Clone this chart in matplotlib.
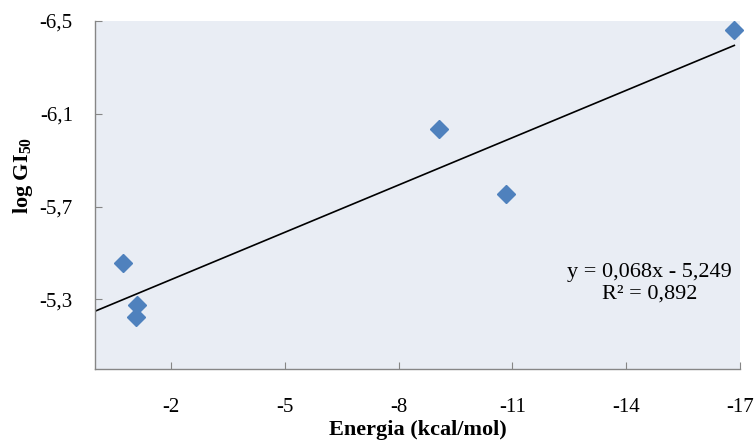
import matplotlib.pyplot as plt
import numpy as np

# docking energy vs log GI50
energia = np.array([-0.73, -1.10, -1.07, -9.07, -10.84, -16.85])
log_gi50 = np.array([-5.457, -5.275, -5.225, -6.036, -5.755, -6.46])

# linear trend as reported
slope = 0.068
intercept = -5.249
r2 = 0.892

x_ticks = [-2, -5, -8, -11, -14, -17]
y_ticks = [-5.3, -5.7, -6.1, -6.5]

plt.rcParams['font.family'] = ['Liberation Serif', 'DejaVu Serif']
plt.rcParams['mathtext.fontset'] = 'custom'
plt.rcParams['mathtext.rm'] = 'Liberation Serif:bold'
plt.rcParams['mathtext.default'] = 'rm'

fig = plt.figure(figsize=(7.55, 4.44), dpi=100)
ax = fig.add_axes([95/755, 1-369/444, (740-95)/755, (369-21)/444])
ax.set_facecolor('#e9edf4')

xl = np.array([0, energia.min()])
ax.plot(xl, slope*xl + intercept, color='black', lw=1.2, zorder=2)
ax.plot(energia, log_gi50, 'D', color='#4f81bd', ms=9, mec='#4f81bd',
        zorder=3, clip_on=False)

ax.set_xlim(0, -17)
ax.set_ylim(-5.0, -6.5)
ax.set_xticks(x_ticks)
ax.set_xticklabels([str(v) for v in x_ticks])
ax.set_yticks(y_ticks)
ax.set_yticklabels([f'{v:.1f}'.replace('.', ',') for v in y_ticks])

for s in ['top', 'right']:
    ax.spines[s].set_visible(False)
for s in ['left', 'bottom']:
    ax.spines[s].set_color('#868686')
    ax.spines[s].set_linewidth(1.0)
ax.tick_params(direction='in', length=5, color='#868686', labelsize=15)
ax.tick_params(axis='x', pad=21)
ax.tick_params(axis='y', pad=16)

ax.set_xlabel('Energia (kcal/mol)', fontsize=16, fontweight='bold')
ax.xaxis.set_label_coords(0.5, -0.147)
ax.set_ylabel(r'log GI$_{50}$', fontsize=16, fontweight='bold', va='center')
ax.yaxis.set_label_coords(-0.112, 0.557)

eq = f'y = {slope:.3f}x - {abs(intercept):.3f}'.replace('.', ',')
ax.text(0.86, 0.247, eq + '\n' + f'R² = {r2:.3f}'.replace('.', ','),
        transform=ax.transAxes, ha='center', va='center', fontsize=16,
        linespacing=1.15)

fig.savefig('out.png', dpi=100)
